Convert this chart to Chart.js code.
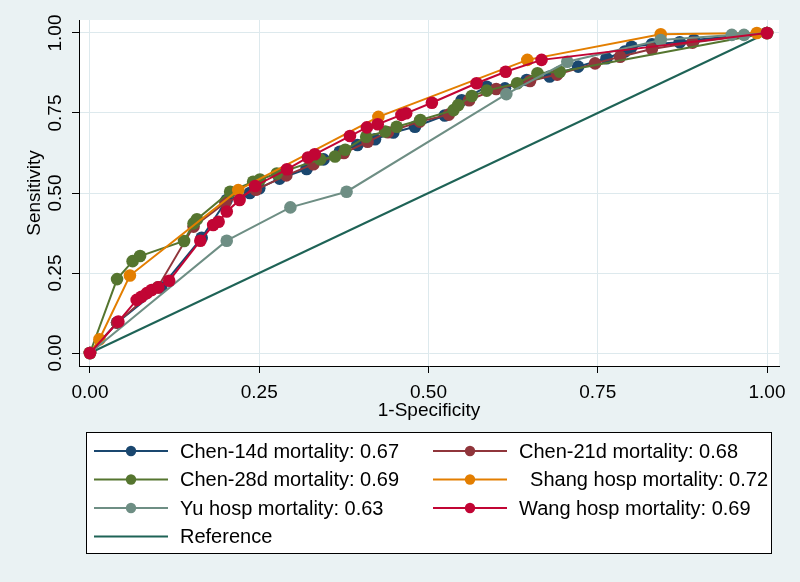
<!DOCTYPE html>
<html>
<head>
<meta charset="utf-8">
<script src="https://cdn.jsdelivr.net/npm/chart.js@4/dist/chart.umd.min.js"></script>
<style>
  html, body { margin: 0; padding: 0; background: #eaf2f3; }
  #wrap { width: 800px; height: 582px; position: relative; }
</style>
</head>
<body>
<div id="wrap"><canvas id="c" width="800" height="582"></canvas></div>
<script>
// ---- data ----
const tickValues = [0, 0.25, 0.5, 0.75, 1];
const tickLabels = ['0.00', '0.25', '0.50', '0.75', '1.00'];

const seriesNames = [
  'Chen-14d mortality: 0.67',
  'Chen-21d mortality: 0.68',
  'Chen-28d mortality: 0.69',
  '  Shang hosp mortality: 0.72',
  'Yu hosp mortality: 0.63',
  'Wang hosp mortality: 0.69',
  'Reference'
];
const seriesColors = ['#1a476f', '#90353b', '#55752f', '#e37e00', '#6e8e84', '#c10534', '#1e6356'];

const chen14X = [0, 0.040, 0.105, 0.165, 0.202, 0.236, 0.250, 0.280, 0.320, 0.345, 0.369, 0.395, 0.421, 0.448, 0.480, 0.524, 0.549, 0.586, 0.613, 0.645, 0.679, 0.721, 0.763, 0.790, 0.800, 0.830, 0.871, 0.892, 1];
const chen14Y = [0, 0.095, 0.205, 0.360, 0.478, 0.500, 0.515, 0.545, 0.575, 0.605, 0.629, 0.650, 0.668, 0.689, 0.707, 0.742, 0.790, 0.832, 0.827, 0.853, 0.864, 0.895, 0.921, 0.942, 0.957, 0.965, 0.971, 0.978, 1];

const chen21X = [0, 0.040, 0.100, 0.153, 0.200, 0.245, 0.290, 0.330, 0.375, 0.410, 0.440, 0.487, 0.530, 0.560, 0.600, 0.650, 0.690, 0.746, 0.783, 0.830, 0.890, 1];
const chen21Y = [0, 0.095, 0.205, 0.395, 0.470, 0.510, 0.555, 0.590, 0.625, 0.660, 0.690, 0.723, 0.745, 0.790, 0.825, 0.850, 0.870, 0.905, 0.926, 0.950, 0.970, 1];

const chen28X = [0, 0.040, 0.063, 0.074, 0.139, 0.153, 0.158, 0.207, 0.241, 0.251, 0.276, 0.340, 0.362, 0.377, 0.408, 0.436, 0.453, 0.488, 0.537, 0.544, 0.564, 0.586, 0.631, 0.661, 0.694, 1];
const chen28Y = [0, 0.231, 0.287, 0.303, 0.350, 0.405, 0.418, 0.504, 0.535, 0.542, 0.561, 0.605, 0.614, 0.635, 0.676, 0.692, 0.707, 0.728, 0.759, 0.775, 0.803, 0.820, 0.843, 0.874, 0.879, 1];

const shangX = [0, 0.014, 0.059, 0.219, 0.426, 0.646, 0.843, 0.985, 1];
const shangY = [0, 0.043, 0.242, 0.509, 0.738, 0.916, 0.996, 1.0, 1];

const yuX = [0, 0.202, 0.296, 0.379, 0.615, 0.705, 0.843, 0.948, 0.966, 1];
const yuY = [0, 0.351, 0.455, 0.504, 0.809, 0.910, 0.978, 0.994, 0.994, 1];

const wangX = [0, 0.042, 0.069, 0.076, 0.084, 0.091, 0.101, 0.117, 0.163, 0.182, 0.190, 0.202, 0.221, 0.244, 0.291, 0.322, 0.332, 0.384, 0.409, 0.425, 0.460, 0.467, 0.505, 0.571, 0.614, 0.667, 1];
const wangY = [0, 0.098, 0.166, 0.176, 0.187, 0.197, 0.205, 0.226, 0.351, 0.400, 0.410, 0.442, 0.478, 0.522, 0.574, 0.611, 0.621, 0.678, 0.705, 0.715, 0.744, 0.749, 0.782, 0.843, 0.879, 0.916, 1];

const refX = [0, 1];
const refY = [0, 1];

// ---- build chart ----
const FONT = "'Liberation Sans', Arial, sans-serif";
const pts = (xs, ys) => xs.map((x, i) => ({ x: x, y: ys[i] }));
const allX = [chen14X, chen21X, chen28X, shangX, yuX, wangX, refX];
const allY = [chen14Y, chen21Y, chen28Y, shangY, yuY, wangY, refY];
const drawOrder = [7, 6, 5, 4, 3, 2, 8];

const datasets = seriesNames.map((name, i) => ({
  label: name,
  data: pts(allX[i], allY[i]),
  borderColor: seriesColors[i],
  backgroundColor: seriesColors[i],
  pointBackgroundColor: seriesColors[i],
  pointBorderWidth: 0,
  pointRadius: i === 6 ? 0 : 6.3,
  pointHoverRadius: i === 6 ? 0 : 6.3,
  borderWidth: 2,
  tension: 0,
  fill: false,
  order: drawOrder[i]
}));

const bgPlugin = {
  id: 'bg',
  beforeDraw(chart) {
    const ctx = chart.ctx, a = chart.chartArea;
    ctx.save();
    ctx.fillStyle = '#eaf2f3';
    ctx.fillRect(0, 0, chart.width, chart.height);
    ctx.fillStyle = '#ffffff';
    ctx.fillRect(a.left, a.top, a.right - a.left, a.bottom - a.top);
    ctx.restore();
  }
};

const legendPlugin = {
  id: 'boxLegend',
  afterDraw(chart) {
    const ctx = chart.ctx;
    ctx.save();
    ctx.fillStyle = '#ffffff';
    ctx.fillRect(86, 432, 685, 121);
    ctx.strokeStyle = '#000000';
    ctx.lineWidth = 1;
    ctx.strokeRect(86.5, 432.5, 685, 121);
    const cols = [{ l0: 94, l1: 168, m: 131, t: 180 }, { l0: 433, l1: 507, m: 470, t: 519 }];
    const rows = [451, 479.5, 508, 536.5];
    ctx.font = '20px ' + FONT;
    ctx.textBaseline = 'middle';
    ctx.textAlign = 'left';
    chart.data.datasets.forEach((ds, i) => {
      const c = cols[i % 2], y = rows[Math.floor(i / 2)];
      ctx.strokeStyle = ds.borderColor;
      ctx.lineWidth = 2;
      ctx.beginPath();
      ctx.moveTo(c.l0, y);
      ctx.lineTo(c.l1, y);
      ctx.stroke();
      if (ds.pointRadius > 0) {
        ctx.fillStyle = ds.borderColor;
        ctx.beginPath();
        ctx.arc(c.m, y, 5.2, 0, Math.PI * 2);
        ctx.fill();
      }
      ctx.fillStyle = '#000000';
      ctx.fillText(ds.label, c.t, y + 1);
    });
    ctx.restore();
  }
};

const setTicks = (scale) => { scale.ticks = tickValues.map(v => ({ value: v })); };
const fmt = (v) => { const k = tickValues.indexOf(v); return k >= 0 ? tickLabels[k] : ''; };
const GRID = '#dde9ed';

new Chart(document.getElementById('c'), {
  type: 'line',
  data: { datasets: datasets },
  options: {
    responsive: false,
    devicePixelRatio: 1,
    animation: false,
    events: [],
    layout: { padding: { left: 23.6, top: 20, right: 21, bottom: 159.6 } },
    plugins: { legend: { display: false }, tooltip: { enabled: false } },
    scales: {
      x: {
        type: 'linear',
        min: -0.0162,
        max: 1.0177,
        afterBuildTicks: setTicks,
        afterFit(scale) { scale.height = 56.4; },
        grid: { color: GRID, lineWidth: 1, tickColor: '#000000', tickLength: 7, drawOnChartArea: true },
        border: { color: '#000000', width: 1 },
        ticks: { font: { family: FONT, size: 19 }, color: '#000000', padding: 8, maxRotation: 0, minRotation: 0, callback: fmt },
        title: { display: true, text: '1-Specificity', font: { family: FONT, size: 19 }, color: '#000000', padding: { top: 0, bottom: 0 } }
      },
      y: {
        type: 'linear',
        min: -0.0406,
        max: 1.0406,
        afterBuildTicks: setTicks,
        afterFit(scale) { scale.width = 55.4; },
        grid: { color: GRID, lineWidth: 1, tickColor: '#000000', tickLength: 7, drawOnChartArea: true },
        border: { color: '#000000', width: 1 },
        ticks: { font: { family: FONT, size: 19 }, color: '#000000', padding: -2, minRotation: 90, maxRotation: 90, crossAlign: 'center', callback: fmt },
        title: { display: true, text: 'Sensitivity', font: { family: FONT, size: 19 }, color: '#000000', padding: { top: 0, bottom: 0 } }
      }
    }
  },
  plugins: [bgPlugin, legendPlugin]
});
</script>
</body>
</html>
